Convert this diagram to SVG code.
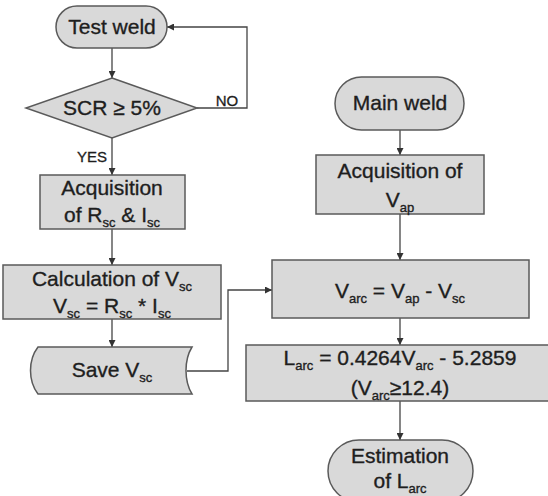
<svg xmlns="http://www.w3.org/2000/svg" width="548" height="496" viewBox="0 0 548 496">
<style>
.n{fill:#d9d9d9;stroke:#5a5a5a;stroke-width:1.5}
.t{font-family:"Liberation Sans",Arial,sans-serif;font-size:21px;fill:#1e1e1e;stroke:#1e1e1e;stroke-width:0.35;text-anchor:middle}
.s{font-size:13px}
.l{font-family:"Liberation Sans",Arial,sans-serif;font-size:15px;fill:#1e1e1e;stroke:#1e1e1e;stroke-width:0.3;text-anchor:middle}
.c{fill:none;stroke:#444;stroke-width:1.3}
</style>
<defs>
<marker id="ah" viewBox="0 0 8 8" refX="8" refY="4" markerWidth="7" markerHeight="7" markerUnits="userSpaceOnUse" orient="auto">
<path d="M0,0 L8,4 L0,8 Z" fill="#333"/>
</marker>
</defs>
<rect width="548" height="496" fill="#ffffff"/>
<g id="connectors">
<path class="c" d="M112,48 V78" marker-end="url(#ah)"/>
<path class="c" d="M197,108 H247 V27 H167" marker-end="url(#ah)"/>
<path class="c" d="M112,138 V175" marker-end="url(#ah)"/>
<path class="c" d="M112,229 V265" marker-end="url(#ah)"/>
<path class="c" d="M112,319 V347" marker-end="url(#ah)"/>
<path class="c" d="M187,371 H228 V290 H272" marker-end="url(#ah)"/>
<path class="c" d="M400,130 V155" marker-end="url(#ah)"/>
<path class="c" d="M400,214 V260" marker-end="url(#ah)"/>
<path class="c" d="M400,318 V345" marker-end="url(#ah)"/>
<path class="c" d="M400,401 V440" marker-end="url(#ah)"/>
<text class="l" x="227" y="106">NO</text>
<text class="l" x="92" y="162">YES</text>
</g>
<g id="test-weld">
<rect class="n" x="56" y="6" width="111" height="42" rx="21"/>
<text class="t" x="112" y="34">Test weld</text>
</g>
<g id="scr-decision">
<path class="n" d="M112,78 L197,108 L112,138 L26,108 Z"/>
<text class="t" x="112" y="115">SCR ≥ 5%</text>
</g>
<g id="acq-rsc-isc">
<rect class="n" x="40" y="175" width="145" height="54"/>
<text class="t" x="112" y="195">Acquisition</text>
<text class="t" x="112" y="222">of R<tspan class="s" dy="5">sc</tspan><tspan dy="-5"> &amp; I</tspan><tspan class="s" dy="5">sc</tspan></text>
</g>
<g id="calc-vsc">
<rect class="n" x="3" y="265" width="218" height="54"/>
<text class="t" x="112" y="286">Calculation of V<tspan class="s" dy="5">sc</tspan></text>
<text class="t" x="112" y="313">V<tspan class="s" dy="5">sc</tspan><tspan dy="-5"> = R</tspan><tspan class="s" dy="5">sc</tspan><tspan dy="-5"> * I</tspan><tspan class="s" dy="5">sc</tspan></text>
</g>
<g id="save-vsc">
<path class="n" d="M38,347 H192 C184,360 184,381 192,394 H38 C28,381 28,360 38,347 Z"/>
<text class="t" x="112" y="377">Save V<tspan class="s" dy="5">sc</tspan></text>
</g>
<g id="main-weld">
<rect class="n" x="335" y="77" width="129" height="53" rx="26.5"/>
<text class="t" x="400" y="110">Main weld</text>
</g>
<g id="acq-vap">
<rect class="n" x="316" y="155" width="168" height="59"/>
<text class="t" x="400" y="178">Acquisition of</text>
<text class="t" x="400" y="207">V<tspan class="s" dy="5">ap</tspan></text>
</g>
<g id="varc">
<rect class="n" x="272" y="260" width="257" height="58"/>
<text class="t" x="400" y="298">V<tspan class="s" dy="5">arc</tspan><tspan dy="-5"> = V</tspan><tspan class="s" dy="5">ap</tspan><tspan dy="-5"> - V</tspan><tspan class="s" dy="5">sc</tspan></text>
</g>
<g id="larc">
<rect class="n" x="246" y="345" width="305" height="56"/>
<text class="t" x="400" y="365">L<tspan class="s" dy="5">arc</tspan><tspan dy="-5"> = 0.4264V</tspan><tspan class="s" dy="5">arc</tspan><tspan dy="-5"> - 5.2859</tspan></text>
<text class="t" x="400" y="395">(V<tspan class="s" dy="5">arc</tspan><tspan dy="-5">≥12.4)</tspan></text>
</g>
<g id="estimation">
<rect class="n" x="328" y="440" width="145" height="62" rx="31"/>
<text class="t" x="400" y="463">Estimation</text>
<text class="t" x="400" y="488">of L<tspan class="s" dy="5">arc</tspan></text>
</g>
</svg>
